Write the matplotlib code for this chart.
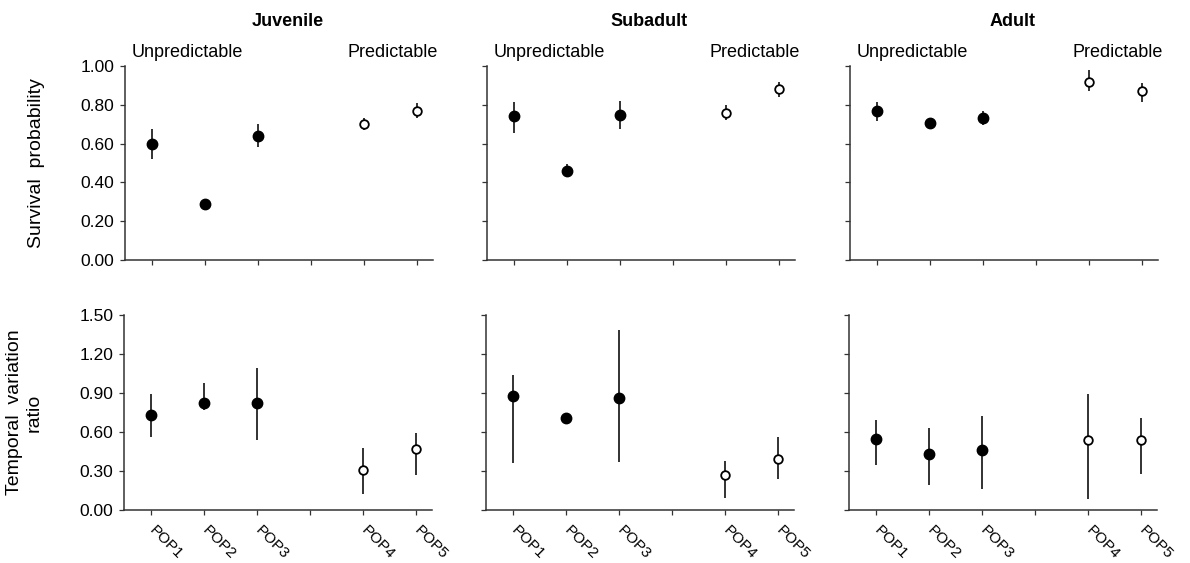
import matplotlib
matplotlib.use("Agg")
import matplotlib.pyplot as plt
from matplotlib.ticker import FixedLocator, FormatStrFormatter
import matplotlib.transforms as mtransforms

plt.rcParams['font.family'] = ['Liberation Sans', 'DejaVu Sans']

# ---------------- data ----------------
stages = ["Juvenile", "Subadult", "Adult"]
populations = ["POP1", "POP2", "POP3", "POP4", "POP5"]
predictable = [False, False, False, True, True]
group_labels = ["Unpredictable", "Predictable"]

# Survival probability (estimate, lower, upper)
juv_surv = [0.60, 0.29, 0.64, 0.70, 0.77]
juv_surv_lo = [0.52, 0.28, 0.58, 0.67, 0.73]
juv_surv_hi = [0.675, 0.30, 0.70, 0.73, 0.81]

sub_surv = [0.74, 0.46, 0.75, 0.76, 0.88]
sub_surv_lo = [0.655, 0.43, 0.675, 0.72, 0.84]
sub_surv_hi = [0.815, 0.495, 0.82, 0.80, 0.915]

adu_surv = [0.77, 0.705, 0.73, 0.915, 0.87]
adu_surv_lo = [0.715, 0.695, 0.695, 0.87, 0.815]
adu_surv_hi = [0.815, 0.715, 0.77, 0.98, 0.91]

# Temporal variation ratio (estimate, lower, upper)
juv_tvr = [0.73, 0.82, 0.82, 0.31, 0.47]
juv_tvr_lo = [0.56, 0.77, 0.54, 0.12, 0.27]
juv_tvr_hi = [0.89, 0.98, 1.09, 0.48, 0.59]

sub_tvr = [0.88, 0.71, 0.86, 0.27, 0.39]
sub_tvr_lo = [0.36, 0.67, 0.37, 0.09, 0.24]
sub_tvr_hi = [1.04, 0.75, 1.385, 0.38, 0.56]

adu_tvr = [0.55, 0.43, 0.46, 0.54, 0.54]
adu_tvr_lo = [0.35, 0.19, 0.16, 0.085, 0.28]
adu_tvr_hi = [0.695, 0.63, 0.725, 0.895, 0.71]

surv = [(juv_surv, juv_surv_lo, juv_surv_hi),
        (sub_surv, sub_surv_lo, sub_surv_hi),
        (adu_surv, adu_surv_lo, adu_surv_hi)]
tvr = [(juv_tvr, juv_tvr_lo, juv_tvr_hi),
       (sub_tvr, sub_tvr_lo, sub_tvr_hi),
       (adu_tvr, adu_tvr_lo, adu_tvr_hi)]

surv_ticks = [0.0, 0.2, 0.4, 0.6, 0.8, 1.0]
tvr_ticks = [0.0, 0.3, 0.6, 0.9, 1.2, 1.5]

# category positions with a gap between the two groups
xpos = []
p = 0
prev = predictable[0]
for flag in predictable:
    p += 1
    if flag != prev:
        p += 1
        prev = flag
    xpos.append(p)
all_ticks = list(range(1, max(xpos) + 1))
tick_labels = [populations[xpos.index(t)] if t in xpos else "" for t in all_ticks]

# ---------------- figure ----------------
W, H = 1190, 563
fig = plt.figure(figsize=(W / 100, H / 100), dpi=100)

col_left = [125, 487, 850]
ax_w = 308
top_y = (66, 260)
bot_y = (315, 510)

spine_col = "#333333"
line_col = "#222222"


def make_ax(left, ytop, ybot):
    return fig.add_axes([left / W, 1 - ybot / H, ax_w / W, (ybot - ytop) / H])


def draw(ax, data):
    est, lo, hi = data
    for x, e, l, h, pr in zip(xpos, est, lo, hi, predictable):
        ax.plot([x, x], [l, h], color=line_col, lw=1.3, solid_capstyle='butt', zorder=2)
        if pr:
            ax.plot(x, e, marker='o', ms=6.2, mfc='white', mec='black', mew=1.3,
                    linestyle='none', zorder=3)
        else:
            ax.plot(x, e, marker='o', ms=7.5, mfc='black', mec='black',
                    linestyle='none', zorder=3)


def style(ax, ticks, show_y, show_x):
    ax.set_xlim(0.49, 6.3)
    ax.set_ylim(ticks[0], ticks[-1])
    ax.yaxis.set_major_locator(FixedLocator(ticks))
    ax.yaxis.set_major_formatter(FormatStrFormatter('%.2f'))
    ax.set_xticks(all_ticks)
    for s in ['top', 'right']:
        ax.spines[s].set_visible(False)
    for s in ['left', 'bottom']:
        ax.spines[s].set_color(spine_col)
        ax.spines[s].set_linewidth(1.1)
    ax.tick_params(axis='both', direction='out', length=3.5, width=0.9,
                   color=spine_col, labelsize=12.5, pad=4)
    if not show_y:
        ax.set_yticklabels([])
    if show_x:
        ax.set_xticklabels(tick_labels, rotation=-45, ha='left', va='top',
                           rotation_mode='anchor', fontsize=11)
        offset = mtransforms.ScaledTranslation(5 / 100, -3 / 100, fig.dpi_scale_trans)
        for lab in ax.get_xticklabels():
            lab.set_transform(lab.get_transform() + offset)
    else:
        ax.set_xticklabels([])


for i, stage in enumerate(stages):
    axt = make_ax(col_left[i], *top_y)
    draw(axt, surv[i])
    style(axt, surv_ticks, i == 0, False)
    axt.text(0.527, 1.227, stage, transform=axt.transAxes, ha='center', va='center',
             fontsize=13, fontweight='bold')
    axt.text(0.02, 1.072, group_labels[0], transform=axt.transAxes, ha='left',
             va='center', fontsize=13)
    axt.text(1.016, 1.072, group_labels[1], transform=axt.transAxes, ha='right',
             va='center', fontsize=13)

    axb = make_ax(col_left[i] - 1, *bot_y)
    draw(axb, tvr[i])
    style(axb, tvr_ticks, i == 0, True)

    if i == 0:
        axt.set_ylabel("Survival  probability", fontsize=14)
        axt.yaxis.set_label_coords(-0.26, 0.5)
        axb.set_ylabel("Temporal  variation\nratio", fontsize=14, linespacing=1.15)
        axb.yaxis.set_label_coords(-0.265, 0.5)

fig.savefig("out.png", dpi=100)
